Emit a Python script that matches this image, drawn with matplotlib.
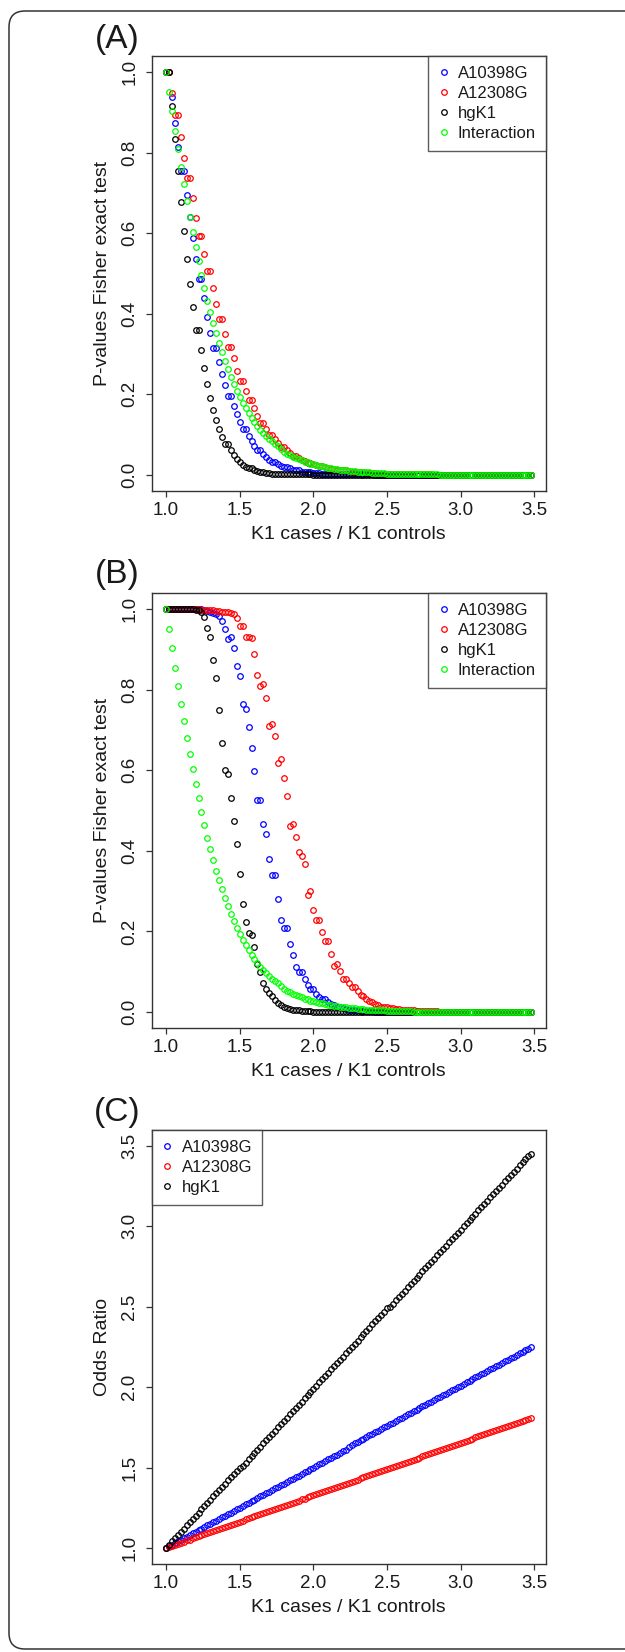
import numpy as np
import matplotlib
matplotlib.use('Agg')
import matplotlib.pyplot as plt
from matplotlib.patches import FancyBboxPatch
from matplotlib.transforms import IdentityTransform

plt.rcParams['font.family'] = ['Liberation Sans', 'DejaVu Sans']

### Data

# K1 cases / K1 controls: 125 steps of 0.02, from 1.00 to 3.48
ratio = np.linspace(1.0, 3.48, 125)

names = ['A10398G', 'A12308G', 'hgK1', 'Interaction']
colors = ['#0000FF', '#FF0000', '#000000', '#00FF00']

## (A) P-values Fisher exact test
a_blue = [1.0, 1.0, 0.937, 0.874, 0.813, 0.754, 0.754, 0.696, 0.64, 0.587,
          0.536, 0.486, 0.486, 0.439, 0.392, 0.353, 0.316, 0.316, 0.28, 0.251,
          0.222, 0.195, 0.195, 0.17, 0.15, 0.131, 0.113, 0.113, 0.096, 0.083,
          0.072, 0.062, 0.062, 0.052, 0.044, 0.037, 0.032, 0.032, 0.027, 0.022,
          0.019, 0.019, 0.016, 0.013, 0.011, 0.011, 0.008, 0.007, 0.006, 0.006,
          0.005, 0.004, 0.004, 0.003, 0.003, 0.002, 0.002, 0.002, 0.002, 0.002,
          0.002, 0.001, 0.001, 0.001, 0.001, 0.001, 0.001, 0.001, 0.001, 0.001,
          0.001] + [0.0] * 54
a_red = [1.0, 1.0, 0.947, 0.893, 0.893, 0.839, 0.787, 0.737, 0.737, 0.687,
         0.638, 0.593, 0.593, 0.548, 0.505, 0.505, 0.464, 0.425, 0.387, 0.387,
         0.35, 0.318, 0.318, 0.291, 0.259, 0.233, 0.233, 0.209, 0.186, 0.186,
         0.165, 0.145, 0.13, 0.13, 0.114, 0.1, 0.1, 0.09, 0.079, 0.07,
         0.07, 0.061, 0.054, 0.048, 0.048, 0.042, 0.037, 0.034, 0.03, 0.03,
         0.027, 0.024, 0.022, 0.022, 0.019, 0.017, 0.015, 0.015, 0.013, 0.012,
         0.011, 0.011, 0.009, 0.008, 0.007, 0.007, 0.006, 0.006, 0.005, 0.005,
         0.004, 0.004, 0.003, 0.003, 0.003, 0.002, 0.002, 0.002, 0.002, 0.002,
         0.002, 0.001, 0.001, 0.001, 0.001, 0.001, 0.001, 0.001, 0.001, 0.001,
         0.001] + [0.0] * 34
a_black = [1.0, 1.0, 0.917, 0.833, 0.754, 0.677, 0.605, 0.537, 0.474, 0.416,
           0.359, 0.359, 0.309, 0.266, 0.226, 0.191, 0.162, 0.136, 0.114, 0.093,
           0.076, 0.076, 0.062, 0.05, 0.04, 0.032, 0.025, 0.02, 0.017, 0.017,
           0.012, 0.01, 0.007, 0.006, 0.005, 0.004, 0.003, 0.003, 0.002, 0.002,
           0.001, 0.001, 0.001, 0.001, 0.001, 0.001, 0.001, 0.001, 0.001, 0.001] + [0.0] * 75
# interaction curve is the same in (A) and (B)
interaction = [1.0, 0.951, 0.903, 0.855, 0.81, 0.765, 0.722, 0.68, 0.64, 0.602,
               0.566, 0.53, 0.497, 0.465, 0.432, 0.405, 0.377, 0.351, 0.327, 0.304,
               0.283, 0.263, 0.244, 0.225, 0.209, 0.193, 0.179, 0.166, 0.153, 0.142,
               0.131, 0.121, 0.112, 0.104, 0.096, 0.089, 0.083, 0.076, 0.071, 0.065,
               0.058, 0.053, 0.049, 0.045, 0.042, 0.039, 0.036, 0.033, 0.031, 0.028,
               0.026, 0.024, 0.022, 0.021, 0.019, 0.018, 0.016, 0.015, 0.014, 0.013,
               0.012, 0.011, 0.01, 0.009, 0.009, 0.008, 0.007, 0.007, 0.006, 0.006,
               0.005, 0.005, 0.004, 0.004, 0.004, 0.003, 0.003, 0.003, 0.003, 0.002,
               0.002, 0.002, 0.002, 0.002, 0.001, 0.001, 0.001, 0.001, 0.001, 0.001,
               0.001, 0.001, 0.001] + [0.0] * 32

## (B) P-values Fisher exact test
b_blue = [1.0] * 10 + [
          1.0, 1.0, 1.0, 0.998, 0.996, 0.994, 0.991, 0.988, 0.983, 0.97,
          0.952, 0.927, 0.932, 0.904, 0.858, 0.833, 0.764, 0.752, 0.708, 0.655,
          0.597, 0.526, 0.527, 0.467, 0.441, 0.379, 0.339, 0.339, 0.28, 0.228,
          0.209, 0.209, 0.169, 0.142, 0.111, 0.099, 0.099, 0.082, 0.067, 0.056,
          0.056, 0.045, 0.037, 0.031, 0.031, 0.025, 0.02, 0.016, 0.013, 0.011,
          0.009, 0.007, 0.006, 0.005, 0.004, 0.004, 0.003, 0.003, 0.002, 0.002,
          0.002, 0.001, 0.001, 0.001, 0.001, 0.001, 0.001, 0.001, 0.001, 0.001] + [0.0] * 45
b_red = [1.0] * 10 + [
         1.0, 1.0, 0.999, 0.999, 0.998, 0.998, 0.997, 0.996, 0.995, 0.994,
         0.993, 0.992, 0.99, 0.988, 0.978, 0.957, 0.957, 0.932, 0.93, 0.928,
         0.888, 0.836, 0.81, 0.813, 0.78, 0.71, 0.716, 0.684, 0.619, 0.628,
         0.581, 0.535, 0.461, 0.467, 0.434, 0.398, 0.388, 0.368, 0.291, 0.3,
         0.253, 0.228, 0.229, 0.199, 0.176, 0.176, 0.143, 0.113, 0.118, 0.102,
         0.081, 0.081, 0.071, 0.062, 0.062, 0.051, 0.043, 0.04, 0.031, 0.026,
         0.025, 0.019, 0.016, 0.013, 0.012, 0.011, 0.01, 0.009, 0.008, 0.007,
         0.006, 0.005, 0.005, 0.004, 0.004, 0.003, 0.003, 0.003, 0.002, 0.002,
         0.002, 0.002, 0.002, 0.001, 0.001, 0.001, 0.001, 0.001, 0.001, 0.001] + [0.0] * 25
b_black = [1.0] * 10 + [
           0.999, 0.997, 0.992, 0.981, 0.953, 0.93, 0.874, 0.829, 0.749, 0.668,
           0.601, 0.592, 0.532, 0.474, 0.418, 0.342, 0.268, 0.224, 0.195, 0.19,
           0.16, 0.118, 0.1, 0.073, 0.058, 0.046, 0.04, 0.029, 0.021, 0.017,
           0.012, 0.01, 0.008, 0.006, 0.005, 0.004, 0.003, 0.003, 0.002, 0.002,
           0.001, 0.001, 0.001, 0.001, 0.001, 0.001] + [0.0] * 69

## (C) Odds Ratio
c_blue = [1.00, 1.01, 1.02, 1.03, 1.04, 1.05, 1.06, 1.07, 1.08, 1.09,
          1.10, 1.11, 1.12, 1.13, 1.14, 1.15, 1.16, 1.17, 1.18, 1.19,
          1.20, 1.21, 1.22, 1.23, 1.24, 1.25, 1.26, 1.27, 1.28, 1.29,
          1.30, 1.31, 1.32, 1.33, 1.34, 1.35, 1.36, 1.37, 1.38, 1.39,
          1.40, 1.41, 1.42, 1.43, 1.44, 1.45, 1.46, 1.47, 1.48, 1.49,
          1.50, 1.51, 1.52, 1.53, 1.54, 1.55, 1.56, 1.57, 1.58, 1.59,
          1.60, 1.61, 1.63, 1.64, 1.65, 1.66, 1.67, 1.68, 1.69, 1.70,
          1.71, 1.72, 1.73, 1.74, 1.75, 1.76, 1.77, 1.78, 1.79, 1.80,
          1.81, 1.82, 1.83, 1.84, 1.85, 1.86, 1.87, 1.88, 1.89, 1.90,
          1.91, 1.92, 1.93, 1.94, 1.95, 1.96, 1.97, 1.98, 1.99, 2.00,
          2.01, 2.02, 2.03, 2.04, 2.05, 2.06, 2.07, 2.08, 2.09, 2.10,
          2.11, 2.12, 2.13, 2.14, 2.15, 2.16, 2.17, 2.18, 2.19, 2.20,
          2.21, 2.22, 2.23, 2.24, 2.25]
c_red = [1.000, 1.007, 1.013, 1.020, 1.026, 1.033, 1.039, 1.046, 1.052, 1.059,
         1.065, 1.072, 1.078, 1.085, 1.092, 1.098, 1.105, 1.111, 1.118, 1.124,
         1.131, 1.137, 1.144, 1.150, 1.157, 1.164, 1.170, 1.177, 1.183, 1.190,
         1.196, 1.203, 1.209, 1.216, 1.222, 1.229, 1.235, 1.242, 1.249, 1.255,
         1.262, 1.268, 1.275, 1.281, 1.288, 1.294, 1.301, 1.307, 1.314, 1.320,
         1.327, 1.334, 1.340, 1.347, 1.353, 1.360, 1.366, 1.373, 1.379, 1.386,
         1.392, 1.399, 1.405, 1.412, 1.419, 1.425, 1.432, 1.438, 1.445, 1.451,
         1.458, 1.464, 1.471, 1.477, 1.484, 1.491, 1.497, 1.504, 1.510, 1.517,
         1.523, 1.530, 1.536, 1.543, 1.549, 1.556, 1.562, 1.569, 1.576, 1.582,
         1.589, 1.595, 1.602, 1.608, 1.615, 1.621, 1.628, 1.634, 1.641, 1.647,
         1.654, 1.661, 1.667, 1.674, 1.680, 1.687, 1.693, 1.700, 1.706, 1.713,
         1.719, 1.726, 1.732, 1.739, 1.746, 1.752, 1.759, 1.765, 1.772, 1.778,
         1.785, 1.791, 1.798, 1.804, 1.811]
c_black = [1.00, 1.02, 1.04, 1.06, 1.08, 1.10, 1.12, 1.14, 1.16, 1.18,
           1.20, 1.22, 1.24, 1.26, 1.28, 1.30, 1.32, 1.34, 1.36, 1.38,
           1.40, 1.42, 1.44, 1.46, 1.48, 1.50, 1.51, 1.53, 1.55, 1.57,
           1.59, 1.61, 1.63, 1.65, 1.67, 1.69, 1.71, 1.73, 1.75, 1.77,
           1.79, 1.81, 1.83, 1.85, 1.87, 1.89, 1.91, 1.93, 1.95, 1.97,
           1.99, 2.01, 2.03, 2.05, 2.07, 2.09, 2.11, 2.13, 2.15, 2.17,
           2.19, 2.21, 2.23, 2.25, 2.27, 2.29, 2.31, 2.33, 2.35, 2.37,
           2.39, 2.41, 2.43, 2.45, 2.47, 2.49, 2.50, 2.52, 2.54, 2.56,
           2.58, 2.60, 2.62, 2.64, 2.66, 2.68, 2.70, 2.72, 2.74, 2.76,
           2.78, 2.80, 2.82, 2.84, 2.86, 2.88, 2.90, 2.92, 2.94, 2.96,
           2.98, 3.00, 3.02, 3.04, 3.06, 3.08, 3.10, 3.12, 3.14, 3.16,
           3.18, 3.20, 3.22, 3.24, 3.26, 3.28, 3.30, 3.32, 3.34, 3.36,
           3.38, 3.40, 3.42, 3.44, 3.45]

xticks = [1.0, 1.5, 2.0, 2.5, 3.0, 3.5]
p_ticks = [0.0, 0.2, 0.4, 0.6, 0.8, 1.0]
or_ticks = [1.0, 1.5, 2.0, 2.5, 3.0, 3.5]

### Figure

fig = plt.figure(figsize=(6.25, 16.52), dpi=100)

edge = '#333333'
textc = '#1a1a1a'


def draw_panel(rect, ys, ylim, yticks, ylabel, loc):
    ax = fig.add_axes(rect)
    for y, name, col in zip(ys, names, colors):
        ax.plot(ratio, y, 'o', mfc='none', mec=col, ms=4.0, mew=0.9, label=name)
    ax.set_xlim(0.9008, 3.5792)
    ax.set_ylim(*ylim)
    ax.set_xticks(xticks)
    ax.set_xticklabels(['%.1f' % t for t in xticks])
    ax.set_yticks(yticks)
    ax.set_yticklabels(['%.1f' % t for t in yticks], rotation=90, va='center')
    ax.tick_params(direction='out', length=4.6, width=0.9, color=edge,
                   labelsize=13.5, labelcolor=textc)
    ax.tick_params(axis='x', pad=3)
    ax.tick_params(axis='y', pad=5)
    for s in ax.spines.values():
        s.set_color(edge)
        s.set_linewidth(1.0)
    ax.set_xlabel('K1 cases / K1 controls', fontsize=14, color=textc, va='center')
    ax.set_ylabel(ylabel, fontsize=14, color=textc, va='center')
    ax.xaxis.set_label_coords(0.5, -0.101)
    ax.yaxis.set_label_coords(-0.123, 0.5)
    leg = ax.legend(loc=loc, fontsize=12, frameon=True, fancybox=False,
                    borderaxespad=0, handlelength=0.7, handletextpad=0.5,
                    labelspacing=0.3, borderpad=0.6, markerscale=1.0)
    leg.get_frame().set_edgecolor(edge)
    leg.get_frame().set_linewidth(1.0)
    for t in leg.get_texts():
        t.set_color(textc)
    return ax


draw_panel([0.2424, 0.7028, 0.6312, 0.2633], [a_blue, a_red, a_black, interaction],
           (-0.04, 1.04), p_ticks, 'P-values Fisher exact test', 'upper right')
draw_panel([0.2424, 0.3777, 0.6312, 0.2633], [b_blue, b_red, b_black, interaction],
           (-0.04, 1.04), p_ticks, 'P-values Fisher exact test', 'upper right')
draw_panel([0.2424, 0.0533, 0.6312, 0.2627], [c_blue, c_red, c_black],
           (0.9, 3.6), or_ticks, 'Odds Ratio', 'upper left')

fig.text(0.188, 0.9762, '(A)', fontsize=24, color=textc, ha='center', va='center')
fig.text(0.188, 0.6520, '(B)', fontsize=24, color=textc, ha='center', va='center')
fig.text(0.188, 0.3265, '(C)', fontsize=24, color=textc, ha='center', va='center')

# rounded outer frame, open on the right
frame = FancyBboxPatch((9, 3), 700, 1638, boxstyle='round,pad=0,rounding_size=16',
                       transform=IdentityTransform(), fill=False, edgecolor=edge,
                       linewidth=1.1)
fig.add_artist(frame)

fig.savefig('out.png', dpi=100)
